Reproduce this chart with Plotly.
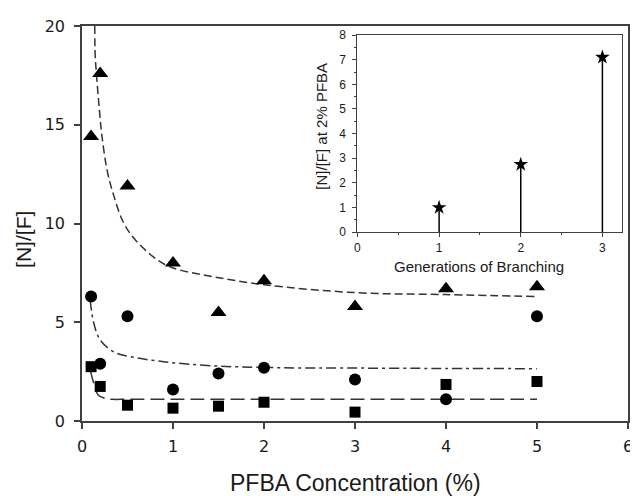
import plotly.graph_objects as go

# ---- main data ----
conc = [0.1, 0.2, 0.5, 1, 1.5, 2, 3, 4, 5]
tri_vals = [14.4, 17.6, 11.9, 8.0, 5.5, 7.1, 5.8, 6.7, 6.8]
circ_vals = [6.3, 2.9, 5.3, 1.6, 2.4, 2.7, 2.1, 1.1, 5.3]
sq_vals = [2.75, 1.75, 0.8, 0.65, 0.75, 0.95, 0.45, 1.85, 2.0]

# fit curves
tri_fit_x = [0.14, 0.145, 0.16, 0.19, 0.22, 0.28, 0.35, 0.45, 0.58, 0.83, 1.0, 1.45, 2.0, 3.0, 4.0, 5.0]
tri_fit_y = [20, 18.5, 17.5, 15.8, 14.4, 12.6, 11.4, 10.1, 9.2, 8.15, 7.75, 7.3, 6.9, 6.5, 6.4, 6.3]
circ_fit_x = [0.09, 0.13, 0.2, 0.35, 0.54, 0.9, 1.41, 2.15, 3.0, 4.0, 5.0]
circ_fit_y = [6.1, 4.95, 4.1, 3.5, 3.25, 3.0, 2.8, 2.7, 2.68, 2.66, 2.65]
sq_fit_x = [0.09, 0.13, 0.18, 0.25, 0.33, 0.5, 1, 2, 3, 4, 5]
sq_fit_y = [2.6, 1.9, 1.3, 1.15, 1.1, 1.1, 1.1, 1.1, 1.1, 1.1, 1.1]

# ---- inset data ----
generations = [1, 2, 3]
nf_at_2pct = [1.0, 2.75, 7.1]

x_title = "PFBA Concentration (%)"
y_title = "[N]/[F]"
inset_x_title = "Generations of Branching"
inset_y_title = "[N]/[F] at 2% PFBA"

fig = go.Figure()

# fit curves
fig.add_trace(go.Scatter(x=tri_fit_x, y=tri_fit_y, mode="lines", line_shape="spline",
                         line=dict(color="#333333", width=1.5, dash="8px,4px"), showlegend=False))
fig.add_trace(go.Scatter(x=circ_fit_x, y=circ_fit_y, mode="lines", line_shape="spline",
                         line=dict(color="#333333", width=1.5, dash="10px,4px,3px,4px"), showlegend=False))
fig.add_trace(go.Scatter(x=sq_fit_x, y=sq_fit_y, mode="lines", line_shape="spline",
                         line=dict(color="#333333", width=1.5, dash="14px,6px"), showlegend=False))

# markers
fig.add_trace(go.Scatter(x=conc, y=tri_vals, mode="markers",
                         marker=dict(symbol="triangle-up", size=14, color="black"), showlegend=False))
fig.add_trace(go.Scatter(x=conc, y=circ_vals, mode="markers",
                         marker=dict(symbol="circle", size=12, color="black"), showlegend=False))
fig.add_trace(go.Scatter(x=conc, y=sq_vals, mode="markers",
                         marker=dict(symbol="square", size=11, color="black"), showlegend=False))

# inset stems
stem_x, stem_y = [], []
for g, v in zip(generations, nf_at_2pct):
    stem_x += [g, g, None]
    stem_y += [0, v, None]
fig.add_trace(go.Scatter(x=stem_x, y=stem_y, mode="lines", line=dict(color="black", width=1.5),
                         xaxis="x2", yaxis="y2", showlegend=False))
fig.add_trace(go.Scatter(x=generations, y=nf_at_2pct, mode="markers",
                         marker=dict(symbol="star", size=11, color="black"),
                         xaxis="x2", yaxis="y2", showlegend=False))

axis_col = "#404040"
tickfont_main = dict(family="DejaVu Sans", size=16, color="#1a1a1a")
tickfont_inset = dict(family="Liberation Sans", size=12, color="#1a1a1a")

fig.update_layout(
    width=630, height=488,
    margin=dict(l=74, r=5, t=18, b=75),
    paper_bgcolor="white", plot_bgcolor="white",
    xaxis=dict(range=[0, 6], dtick=1, showgrid=False, zeroline=False,
               showline=True, mirror=True, linecolor=axis_col, linewidth=1.5,
               ticks="outside", ticklen=6, tickcolor=axis_col, tickwidth=1.5,
               tickfont=tickfont_main, ticklabelstandoff=4),
    yaxis=dict(range=[0, 20], dtick=5, showgrid=False, zeroline=False,
               showline=True, mirror=True, linecolor=axis_col, linewidth=1.5,
               ticks="outside", ticklen=6, tickcolor=axis_col, tickwidth=1.5,
               tickfont=tickfont_main, ticklabelstandoff=6),
    xaxis2=dict(domain=[0.5045, 0.989], anchor="y2", range=[0, 3.24], dtick=1,
                showgrid=False, zeroline=False, showline=True, mirror=True,
                linecolor=axis_col, linewidth=1.2, ticks="outside", ticklen=4,
                tickcolor=axis_col, tickfont=tickfont_inset,
                minor=dict(ticks="outside", dtick=0.5, ticklen=2, tickcolor=axis_col)),
    yaxis2=dict(domain=[0.478, 0.977], anchor="x2", range=[0, 8], dtick=1,
                showgrid=False, zeroline=False, showline=True, mirror=True,
                linecolor=axis_col, linewidth=1.2, ticks="outside", ticklen=4,
                tickcolor=axis_col, tickfont=tickfont_inset, ticklabelstandoff=4,
                minor=dict(ticks="outside", dtick=0.5, ticklen=2, tickcolor=axis_col)),
    annotations=[
        dict(text=x_title, xref="paper", yref="paper", x=0.5, y=-0.157,
             xanchor="center", yanchor="middle", showarrow=False,
             font=dict(family="Liberation Sans", size=23, color="#1a1a1a")),
        dict(text=y_title, xref="paper", yref="paper", x=-0.107, y=0.46,
             xanchor="center", yanchor="middle", textangle=-90, showarrow=False,
             font=dict(family="Liberation Sans", size=21, color="#1a1a1a")),
        dict(text=inset_x_title, xref="paper", yref="paper", x=0.728, y=0.392,
             xanchor="center", yanchor="middle", showarrow=False,
             font=dict(family="Liberation Sans", size=15, color="#1a1a1a")),
        dict(text=inset_y_title, xref="paper", yref="paper", x=0.439, y=0.747,
             xanchor="center", yanchor="middle", textangle=-90, showarrow=False,
             font=dict(family="Liberation Sans", size=15, color="#1a1a1a")),
    ],
)

fig.write_html("out.html")
